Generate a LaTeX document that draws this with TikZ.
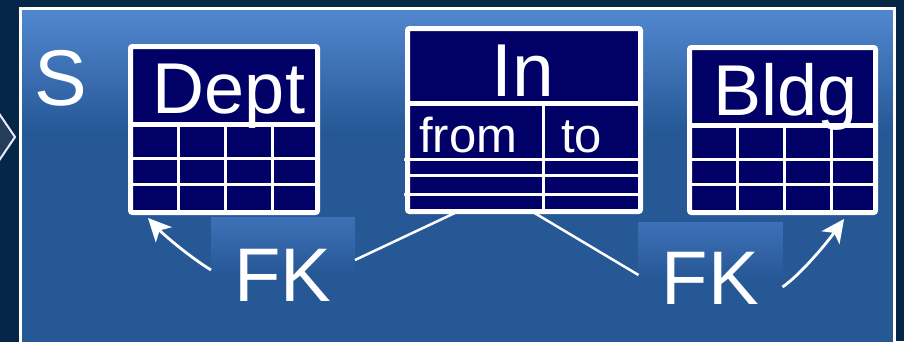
\documentclass[tikz,border=0pt]{standalone}
\usepackage{fontspec}
\setmainfont{Liberation Sans}
\usetikzlibrary{arrows.meta}
\definecolor{deepbg}{RGB}{6,38,72}
\definecolor{deepmid}{RGB}{30,32,74}
\definecolor{paneltop}{RGB}{82,136,208}
\definecolor{panelbot}{RGB}{38,88,150}
\definecolor{fkglow}{RGB}{62,112,184}
\definecolor{tblnavy}{RGB}{0,0,102}
\definecolor{chevfill}{RGB}{36,61,88}

\begin{document}
\begin{tikzpicture}[x=1pt, y=-1pt, >=Stealth,
  tbl/.style={draw=white, fill=tblnavy, line width=5pt, rounded corners=2pt,
    inner sep=0pt, outer sep=0pt},
  grid/.style={white, line width=3pt},
  head/.style={white, line width=4.5pt},
  title/.style={font=\fontsize{72}{82}\selectfont, text=white, inner sep=0pt,
    anchor=base},
  field/.style={font=\fontsize{49}{56}\selectfont, text=white, inner sep=0pt,
    anchor=base west},
  fk/.style={font=\fontsize{76}{86}\selectfont, text=white, inner sep=0pt,
    outer sep=0pt, minimum width=144pt, top color=fkglow,
    bottom color=panelbot, middle color=panelbot},
  link/.style={white, line width=2.5pt},
  fkarrow/.style={white, line width=2.8pt,
    -{Stealth[length=23pt, width=22pt, inset=6pt]}}]
\useasboundingbox (0,0) rectangle (904,341);
\fill[deepbg] (0,0) rectangle (904,341);
\shade[top color=deepbg, middle color=deepmid, bottom color=deepbg] (0,0) rectangle (19,341);
\filldraw[fill=chevfill, draw=white!92!blue, line width=2pt] (-6,106) -- (15,137) -- (-6,168);
\fill[panelbot] (20,8) rectangle (895,350);
\shade[top color=paneltop, bottom color=panelbot] (20,8) rectangle (895,132);
\draw[white, line width=3.5pt] (20.5,360) -- (20.5,8.5) -- (894.5,8.5) -- (894.5,360);
\node[title, anchor=base west, font=\fontsize{79}{90}\selectfont] (s) at (34,105) {S};
\node[tbl, minimum width=187pt, minimum height=166pt] (dept) at (224,129.5) {};
\node[tbl, minimum width=233pt, minimum height=183pt] (in) at (524,120) {};
\node[tbl, minimum width=186pt, minimum height=165pt] (bldg) at (782.5,130) {};
\draw[head] (130.5,124.5) -- (317.5,124.5);
\foreach \y in {158.5,184.5} \draw[grid] (130.5,\y) -- (317.5,\y);
\foreach \x in {178.5,225.5,272.5} \draw[grid] (\x,124.5) -- (\x,212.5);
\draw[head, line width=5pt] (407.5,103) -- (640.5,103);
\draw[grid] (543,103) -- (543,211.5);
\foreach \y in {159.5,194.5} \draw[grid] (404,\y) -- (640.5,\y);
\draw[grid] (407.5,175.5) -- (640.5,175.5);
\draw[head] (689.5,125.5) -- (875.5,125.5);
\foreach \y in {159.5,184.5} \draw[grid] (689.5,\y) -- (875.5,\y);
\foreach \x in {737,784,831} \draw[grid] (\x,125.5) -- (\x,212.5);
\node[title] (deptname) at (229,113) {Dept};
\node[title, font=\fontsize{75}{84}\selectfont] (inname) at (523,96) {In};
\node[title] (bldgname) at (786,115) {Bldg};
\node[field] (from) at (419,152) {from};
\node[field] (to) at (561,152) {to};
\node[fk, minimum height=116pt] (fk1) at (283,275) {FK};
\node[fk, minimum height=113pt] (fk2) at (710.5,278.5) {FK};
\draw[link] ([xshift=-66pt]in.south) -- ([yshift=15pt]fk1.east);
\draw[link] ([xshift=8pt]in.south) -- ([yshift=3.5pt]fk2.west);
\draw[fkarrow] ([yshift=5pt]fk1.west) .. controls (190,257) and (165,236) .. ([xshift=17.5pt,yshift=-5.5pt]dept.south west);
\draw[fkarrow] ([yshift=-8.5pt]fk2.east) .. controls (800,275) and (826,244) .. ([xshift=-31.5pt,yshift=-6.5pt]bldg.south east);
\end{tikzpicture}
\end{document}
